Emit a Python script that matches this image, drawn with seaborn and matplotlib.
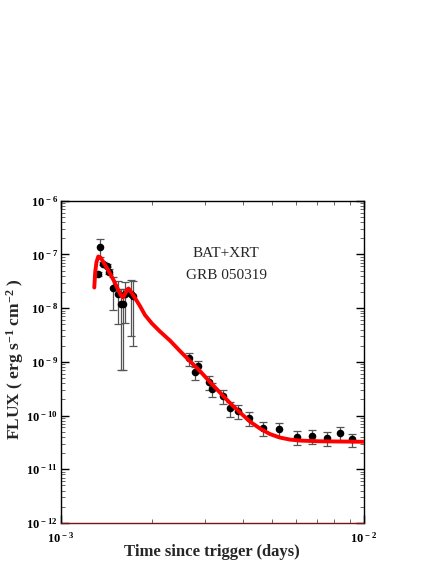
import numpy as np
import pandas as pd
import matplotlib
matplotlib.use("Agg")
import matplotlib.pyplot as plt
import matplotlib.ticker as mticker
import seaborn as sns

# ---- data ----
t_bat = [1.331e-3, 1.351e-3, 1.384e-3, 1.417e-3, 1.447e-3, 1.492e-3,
         1.546e-3, 1.578e-3, 1.602e-3, 1.631e-3, 1.703e-3, 1.733e-3]
f_bat = [4.32e-8, 1.40e-7, 6.77e-8, 6.21e-8, 4.76e-8, 2.40e-8,
         1.83e-8, 1.18e-8, 1.18e-8, 1.83e-8, 1.83e-8, 1.68e-8]
e_bat = [0.3e-8, 0.5e-7, 0.5e-8, 0.5e-8, 0.5e-8, 1.48e-8,
         1.33e-8, 1.11e-8, 1.11e-8, 1.3e-8, 1.53e-8, 1.48e-8]

t_xrt = [2.653e-3, 2.777e-3, 2.848e-3, 3.089e-3, 3.148e-3, 3.436e-3,
         3.624e-3, 3.861e-3, 4.187e-3, 4.669e-3, 5.272e-3, 6.018e-3,
         6.776e-3, 7.594e-3, 8.364e-3, 9.145e-3]
f_xrt = [1.16e-9, 6.37e-10, 8.35e-10, 4.21e-10, 3.11e-10, 2.31e-10,
         1.36e-10, 1.23e-10, 8.87e-11, 5.78e-11, 5.53e-11, 4.03e-11,
         4.21e-11, 3.86e-11, 4.79e-11, 3.61e-11]
e_xrt = [0.32e-9, 0.18e-9, 0.21e-9, 0.12e-9, 0.09e-9, 0.07e-9,
         0.04e-9, 0.036e-9, 0.026e-9, 0.017e-9, 0.016e-9, 0.012e-9,
         0.012e-9, 0.011e-9, 0.014e-9, 0.010e-9]

t_model = [1.291e-3, 1.300e-3, 1.313e-3, 1.331e-3, 1.353e-3, 1.390e-3,
           1.455e-3, 1.500e-3, 1.550e-3, 1.582e-3, 1.606e-3, 1.631e-3,
           1.656e-3, 1.675e-3, 1.713e-3, 1.760e-3, 1.828e-3, 1.898e-3,
           2.002e-3, 2.128e-3, 2.296e-3, 2.477e-3, 2.673e-3, 2.884e-3,
           3.112e-3, 3.358e-3, 3.624e-3, 3.910e-3, 4.218e-3, 4.552e-3,
           4.912e-3, 5.300e-3, 5.718e-3, 6.171e-3, 7.183e-3, 1.0e-2]
f_model = [2.42e-8, 4.70e-8, 7.22e-8, 9.14e-8, 8.76e-8, 6.92e-8,
           4.41e-8, 3.20e-8, 2.17e-8, 1.72e-8, 1.58e-8, 1.83e-8,
           2.22e-8, 2.32e-8, 1.95e-8, 1.54e-8, 1.09e-8, 7.44e-9,
           5.17e-9, 3.67e-9, 2.49e-9, 1.59e-9, 1.03e-9, 6.74e-10,
           4.20e-10, 2.68e-10, 1.71e-10, 1.14e-10, 7.73e-11, 5.73e-11,
           4.52e-11, 3.89e-11, 3.57e-11, 3.42e-11, 3.32e-11, 3.25e-11]

x_ticks = [1e-3, 1e-2]
y_ticks = [1e-12, 1e-11, 1e-10, 1e-9, 1e-8, 1e-7, 1e-6]

# ---- style ----
sns.set_theme(style="white")
plt.rcParams["font.family"] = ["Liberation Serif", "DejaVu Serif"]
plt.rcParams["mathtext.fontset"] = "custom"
plt.rcParams["mathtext.rm"] = "Liberation Serif"
plt.rcParams["mathtext.bf"] = "Liberation Serif:bold"
plt.rcParams["mathtext.it"] = "Liberation Serif:italic"

fig = plt.figure(figsize=(4.36, 5.64), dpi=100)
ax = fig.add_axes([60.7 / 436, 1 - 523 / 564, (363.5 - 60.7) / 436, (523 - 200.7) / 564])

pts = pd.DataFrame({"t": t_bat + t_xrt, "f": f_bat + f_xrt, "e": e_bat + e_xrt})
model = pd.DataFrame({"t": t_model, "f": f_model})

ax.errorbar(pts["t"], pts["f"], yerr=pts["e"], fmt="none", ecolor="#555555",
            elinewidth=0.9, capsize=3, capthick=0.9, zorder=2)
sns.scatterplot(data=pts, x="t", y="f", ax=ax, color="black", s=30,
                edgecolor="black", linewidth=0, zorder=3)
sns.lineplot(data=model, x="t", y="f", ax=ax, color="#ff0000", lw=2.8,
             zorder=4, sort=False)

ax.set_xscale("log")
ax.set_yscale("log")
ax.set_xlim(1e-3, 1e-2)
ax.set_ylim(1e-12, 1e-6)

def fmt(v, pos):
    e = int(round(np.log10(v)))
    return r"$\mathbf{10^{\,%d}}$" % e

ax.xaxis.set_major_locator(mticker.FixedLocator(x_ticks))
ax.yaxis.set_major_locator(mticker.FixedLocator(y_ticks))
ax.xaxis.set_minor_locator(mticker.LogLocator(base=10, subs=np.arange(2, 10), numticks=20))
ax.yaxis.set_minor_locator(mticker.LogLocator(base=10, subs=np.arange(2, 10), numticks=20))
ax.xaxis.set_minor_formatter(mticker.NullFormatter())
ax.yaxis.set_minor_formatter(mticker.NullFormatter())
ax.xaxis.set_major_formatter(mticker.FuncFormatter(fmt))
ax.yaxis.set_major_formatter(mticker.FuncFormatter(fmt))

ax.tick_params(which="both", direction="in", top=True, right=True,
               bottom=True, left=True, colors="black")
ax.tick_params(which="major", length=6, width=1.0, labelsize=9)
ax.tick_params(axis="y", which="major", pad=2)
ax.tick_params(axis="x", which="major", pad=6)
ax.tick_params(which="minor", length=3, width=0.7, color="#666666")

for s in ax.spines.values():
    s.set_color("black")
    s.set_linewidth(1.0)
ax.spines["bottom"].set_color("#7a1414")

ax.set_xlabel("Time since trigger (days)", fontsize=12, fontweight="bold", va="center")
ax.xaxis.set_label_coords(0.5, -0.09)
ax.set_ylabel(r"FLUX ( erg s$^{\mathbf{-1}}$ cm$^{\mathbf{-2}}$ )", fontsize=12.5,
              fontweight="bold", va="center")
ax.yaxis.set_label_coords(-0.152, 0.51)

ax.text(0.546, 0.835, "BAT+XRT", transform=ax.transAxes, ha="center",
        va="center", fontsize=11)
ax.text(0.546, 0.769, "GRB 050319", transform=ax.transAxes, ha="center",
        va="center", fontsize=11)

fig.savefig("out.png", dpi=100, facecolor="white")
